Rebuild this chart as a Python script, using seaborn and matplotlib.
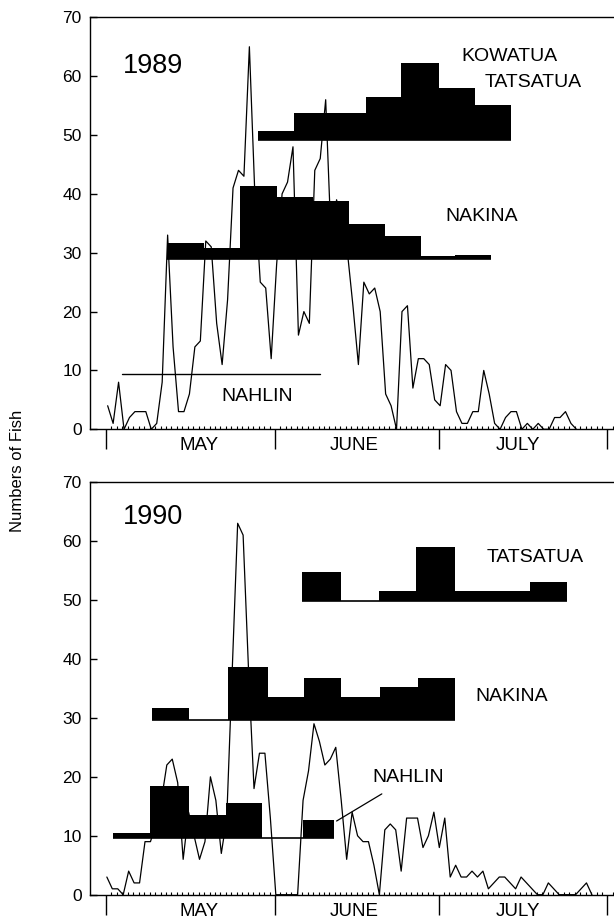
import numpy as np
import pandas as pd
import matplotlib
matplotlib.use("Agg")
import matplotlib.pyplot as plt
from matplotlib.ticker import FixedLocator
import seaborn as sns

# ---------------- data ----------------
# daily counts of fish, one value per day starting at 1 May
counts_1989 = [4, 1, 8, 0, 2, 3, 3, 3, 0, 1, 8, 33, 14, 3, 3, 6, 14, 15, 32, 31,
               18, 11, 22, 41, 44, 43, 65, 40, 25, 24, 12, 28, 40, 42, 48, 16, 20, 18, 44, 46,
               56, 32, 39, 35, 30, 21, 11, 25, 23, 24, 20, 6, 4, 0, 20, 21, 7, 12, 12, 11,
               5, 4, 11, 10, 3, 1, 1, 3, 3, 10, 6, 1, 0, 2, 3, 3, 0, 1, 0, 1,
               0, 0, 2, 2, 3, 1, 0]
counts_1990 = [3, 1, 1, 0, 4, 2, 2, 9, 9, 12, 16, 22, 23, 19, 6, 14, 10, 6, 9, 20,
               16, 7, 13, 38, 63, 61, 38, 18, 24, 24, 13, 0, 0, 0, 0, 0, 16, 21, 29, 26,
               22, 23, 25, 16, 6, 14, 10, 9, 9, 5, 0, 11, 12, 11, 4, 13, 13, 13, 8, 10,
               14, 8, 13, 3, 5, 3, 3, 4, 3, 4, 1, 2, 3, 3, 2, 1, 3, 2, 1, 0,
               0, 2, 1, 0, 0, 0, 0, 1, 2, 0]

months = ["MAY", "JUNE", "JULY"]
month_starts = [0, 31, 61, 92]          # days since 1 May
month_label_days = [17.0, 45.5, 75.5]

# stock timing histograms (bin edges in days since 1 May, bar heights, baseline)
nahlin_1989_edges = [3.0, 39.2]
nahlin_1989_heights = [0.0]
nahlin_1989_base = 9.4
nakina_1989_edges = [11.2, 18.0, 24.6, 31.4, 38.0, 44.6, 51.1, 57.8, 64.1, 70.6]
nakina_1989_heights = [2.6, 1.8, 12.4, 10.4, 9.8, 5.8, 3.9, 0.4, 0.6]
nakina_1989_base = 29.0
tatsatua_1989_edges = [27.8, 34.4, 41.0, 47.7, 54.2, 61.0, 67.7, 74.3]
tatsatua_1989_heights = [1.6, 4.6, 4.6, 7.3, 13.2, 8.9, 6.0]
tatsatua_1989_base = 49.1

nahlin_1990_edges = [1.2, 8.1, 15.2, 22.0, 28.6, 36.2, 41.8]
nahlin_1990_heights = [0.8, 8.8, 3.9, 5.9, 0.0, 3.0]
nahlin_1990_base = 9.6
nakina_1990_edges = [8.5, 15.2, 22.3, 29.7, 36.3, 43.1, 50.2, 57.3, 64.1]
nakina_1990_heights = [1.9, 0.0, 9.0, 3.8, 7.1, 3.8, 5.6, 7.1]
nakina_1990_base = 29.7
tatsatua_1990_edges = [36.0, 43.1, 50.1, 56.8, 64.1, 70.9, 77.8, 84.6]
tatsatua_1990_heights = [4.9, 0.0, 1.7, 9.1, 1.7, 1.7, 3.3]
tatsatua_1990_base = 49.8

y_ticks = [0, 10, 20, 30, 40, 50, 60, 70]

# ---------------- style ----------------
sns.set_style("ticks")
plt.rcParams["font.family"] = ["Liberation Sans", "DejaVu Sans"]
plt.rcParams["axes.linewidth"] = 1.0
for key in ["text.color", "axes.labelcolor", "xtick.color", "ytick.color", "axes.edgecolor"]:
    plt.rcParams[key] = "black"

fig = plt.figure(figsize=(6.14, 9.22), dpi=100)
ax_top = fig.add_axes([0.1466, 0.5344, 0.8534, 0.4468])
ax_bot = fig.add_axes([0.1466, 0.0296, 0.8534, 0.4476])


def draw_hist(ax, edges, heights, base):
    edges = np.asarray(edges, float)
    heights = np.asarray(heights, float)
    ax.bar(edges[:-1], heights, width=np.diff(edges), bottom=base, align="edge",
           color="black", linewidth=0, zorder=3)
    ax.plot([edges[0], edges[-1]], [base, base], color="black", lw=1.2,
            solid_capstyle="butt", zorder=3)


def style_axes(ax):
    ax.set_xlim(-2.94, 93.2)
    ax.set_ylim(0, 70)
    ax.set_yticks(y_ticks)
    ax.set_yticklabels([str(t) for t in y_ticks], fontsize=12.5, color="black")
    ax.tick_params(axis="y", direction="in", length=5, width=1.0, pad=6, colors="black")
    ax.set_xticks(month_starts)
    ax.set_xticklabels([])
    ax.tick_params(axis="x", which="major", direction="out", length=14.5, width=1.0,
                   colors="black")
    minor = [d for d in range(1, 94) if d not in month_starts]
    ax.xaxis.set_minor_locator(FixedLocator(minor))
    ax.tick_params(axis="x", which="minor", direction="in", length=2.3, width=0.8,
                   colors="black")
    for s in ["left", "bottom", "top"]:
        ax.spines[s].set_color("black")
        ax.spines[s].set_linewidth(1.0)
    ax.spines["right"].set_visible(False)
    ax.set_xlabel("")
    ax.set_ylabel("")
    for name, xd in zip(months, month_label_days):
        ax.text(xd, -2.77, name, ha="center", va="center", fontsize=13.5,
                color="black", clip_on=False)


# ---------------- 1989 ----------------
df89 = pd.DataFrame({"day": np.arange(len(counts_1989)) + 0.3, "fish": counts_1989})
sns.lineplot(data=df89, x="day", y="fish", ax=ax_top, color="black", lw=0.9,
             estimator=None, zorder=2)
ax_top.plot(nahlin_1989_edges, [nahlin_1989_base] * 2, color="black", lw=1.0, zorder=3)
draw_hist(ax_top, nakina_1989_edges, nakina_1989_heights, nakina_1989_base)
draw_hist(ax_top, tatsatua_1989_edges, tatsatua_1989_heights, tatsatua_1989_base)
style_axes(ax_top)
ax_top.text(8.7, 61.7, "1989", ha="center", va="center", fontsize=19.5, color="black")
ax_top.text(74.1, 63.3, "KOWATUA", ha="center", va="center", fontsize=14, color="black")
ax_top.text(78.3, 58.9, "TATSATUA", ha="center", va="center", fontsize=14, color="black")
ax_top.text(68.9, 36.2, "NAKINA", ha="center", va="center", fontsize=14, color="black")
ax_top.text(27.8, 5.5, "NAHLIN", ha="center", va="center", fontsize=14, color="black")

# ---------------- 1990 ----------------
df90 = pd.DataFrame({"day": np.arange(len(counts_1990)) + 0.15, "fish": counts_1990})
sns.lineplot(data=df90, x="day", y="fish", ax=ax_bot, color="black", lw=0.9,
             estimator=None, zorder=2)
draw_hist(ax_bot, nahlin_1990_edges, nahlin_1990_heights, nahlin_1990_base)
draw_hist(ax_bot, nakina_1990_edges, nakina_1990_heights, nakina_1990_base)
draw_hist(ax_bot, tatsatua_1990_edges, tatsatua_1990_heights, tatsatua_1990_base)
style_axes(ax_bot)
ax_bot.text(8.7, 64.0, "1990", ha="center", va="center", fontsize=19.5, color="black")
ax_bot.text(78.7, 57.2, "TATSATUA", ha="center", va="center", fontsize=14, color="black")
ax_bot.text(74.4, 33.6, "NAKINA", ha="center", va="center", fontsize=14, color="black")
ax_bot.text(55.4, 19.8, "NAHLIN", ha="center", va="center", fontsize=14, color="black")
ax_bot.plot([42.3, 50.6], [12.5, 17.1], color="black", lw=0.9, zorder=4)

fig.text(0.0277, 0.4892, "Numbers of Fish", rotation=90, ha="center", va="center",
         fontsize=12, color="black")

fig.savefig("out.png", dpi=100)
